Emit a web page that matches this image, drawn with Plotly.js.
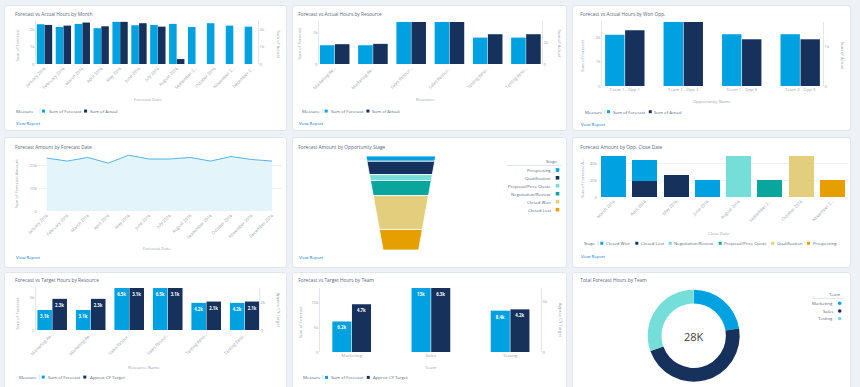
<!DOCTYPE html>
<html><head><meta charset="utf-8">
<script src="https://cdn.plot.ly/plotly-3.0.1.min.js"></script>
<style>
html,body{margin:0;padding:0;width:860px;height:387px;overflow:hidden;background:#eef1f6;}
.card{position:absolute;background:#fff;border:1px solid #e1e6ed;border-radius:3px;box-sizing:border-box;}
.plot{position:absolute;}
</style></head><body>
<script>
// ---------------- DATA ----------------
const monthsShort = ["January 2016","February 2016","March 2016","April 2016","May 2016","June 2016","July 2016","August 2016","September 2...","October 2016","November 2...","December 2..."];
const forecastByMonth = [2330, 2170, 2350, 2100, 2470, 2270, 2290, 2350, 2170, 2390, 2250, 2190];
const actualByMonth   = [2290, 2250, 2430, 2210, 2470, 2390, 2190, 290, null, null, null, null];

const resources = ["Marketing Re...","Marketing Re...","Sales Resour...","Sales Resour...","Testing Reso...","Testing Reso..."];
const forecastByResource = [590, 590, 1320, 1320, 830, 830];
const actualByResource   = [1850, 1880, 3920, 3920, 2780, 2780];

const wonOpps = ["Team 1 - Opp 1","Team 1 - Opp 2","Team 1 - Opp 3","Team 2 - Opp 3"];
const forecastByOpp = [2130, 2660, 2150, 2150];
const actualByOpp   = [1420, 1630, 1190, 1190];

const monthsFull = ["January 2016","February 2016","March 2016","April 2016","May 2016","June 2016","July 2016","August 2016","September 2016","October 2016","November 2016","December 2016"];
const forecastAmountByMonth = [23400, 22100, 23700, 21200, 24700, 23000, 23000, 23700, 22100, 24100, 22800, 22100];

const stages = ["Prospecting","Qualification","Proposal/Price Quote","Negotiation/Review","Closed Won","Closed Lost"];
const amountByStage = [20600, 49800, 20600, 49800, 95200, 46000];

const closeDates = ["March 2016","April 2016","May 2016","June 2016","August 2016","September 2...","October 2016","November 2..."];
const closedWonAmt   = [50000, 24600, null, 20600, null, null, null, null];
const closedLostAmt  = [null, 19800, 26200, null, null, null, null, null];
const negotiationAmt = [null, null, null, null, 50000, null, null, null];
const proposalAmt    = [null, null, null, null, null, 20600, null, null];
const qualificationAmt = [null, null, null, null, null, null, 50000, null];
const prospectingAmt = [null, null, null, null, null, null, null, 20600];

const resourceNames = ["Marketing Re...","Marketing Re...","Sales Resour...","Sales Resour...","Testing Reso...","Testing Reso..."];
const forecastHoursRes = [3100, 3100, 6500, 6500, 4200, 4200];
const targetHoursRes   = [2300, 2300, 3100, 3100, 2100, 2100];

const teams = ["Marketing","Sales","Testing"];
const forecastHoursTeam = [6200, 13000, 8400];
const targetHoursTeam   = [4700, 6300, 4200];

// ---------------- STYLE ----------------
const FONT = '"Open Sans", "Noto Sans", sans-serif';
const C = {blue:'#00a1e0', navy:'#16325c', lteal:'#76ded9', teal:'#08a69c', khaki:'#e2ce7d', orange:'#e69f00'};
const TXT = '#56677d', TICK = '#98a3b0', LINK = '#0070d2', AXL = '#d5dbe3';
const CFG = {staticPlot:true, displayModeBar:false};

function frame(card, plot) {
  const bg = document.createElement('div');
  bg.className = 'card';
  Object.assign(bg.style, {left:card.x+'px', top:card.y+'px', width:card.w+'px', height:card.h+'px'});
  document.body.appendChild(bg);
  const el = document.createElement('div');
  el.className = 'plot';
  Object.assign(el.style, {left:card.x+'px', top:card.y+'px', width:card.w+'px', height:card.h+'px'});
  document.body.appendChild(el);
  const P = plot || {L:card.x, R:card.x+card.w, T:card.y, B:card.y+card.h};
  const X = ax => (ax - P.L) / (P.R - P.L);
  const Y = ay => (P.B - ay) / (P.B - P.T);
  const margin = {l:P.L-card.x, r:card.x+card.w-P.R, t:P.T-card.y, b:card.y+card.h-P.B, pad:0};
  const ann = [], shp = [];
  let title = null;
  return {
    el, X, Y,
    title(tx, ty, s) {
      title = {text:s, xref:'container', yref:'container', x:(tx-card.x)/card.w, y:1-(ty-card.y)/card.h,
               xanchor:'left', yanchor:'middle', font:{family:FONT, size:4.8, color:TXT}};
    },
    text(ax, ay, s, o) {
      o = o || {};
      ann.push({xref:'paper', yref:'paper', x:X(ax), y:Y(ay), text:s, showarrow:false, borderpad:0,
        xanchor:o.xa||'left', yanchor:'middle', textangle:o.angle||0,
        font:{family:FONT, size:o.size||4.3, color:o.color||TXT}});
    },
    rect(x0, y0, x1, y1, color) {
      shp.push({type:'rect', xref:'paper', yref:'paper', x0:X(x0), x1:X(x1), y0:Y(y1), y1:Y(y0), fillcolor:color, line:{width:0}});
    },
    line(x0, y0, x1, y1, color, w) {
      shp.push({type:'line', xref:'paper', yref:'paper', x0:X(x0), x1:X(x1), y0:Y(y0), y1:Y(y1), line:{color:color, width:w||0.6}});
    },
    circle(cx, cy, r, color) {
      shp.push({type:'circle', xref:'paper', yref:'paper', x0:X(cx-r), x1:X(cx+r), y0:Y(cy+r), y1:Y(cy-r), fillcolor:color, line:{width:0}});
    },
    layout(extra) {
      return Object.assign({width:card.w, height:card.h, margin:margin, paper_bgcolor:'rgba(0,0,0,0)',
        plot_bgcolor:'rgba(0,0,0,0)', showlegend:false, annotations:ann, shapes:shp, title:title,
        font:{family:FONT, size:4.3, color:TICK}, hovermode:false}, extra);
    }
  };
}

function hLegend(api, y, head, titleX, sepX, items) {
  api.text(titleX, y, head);
  api.line(sepX, y-2.6, sepX, y+2.6, '#c3ccd7', 0.6);
  items.forEach(it => {
    api.rect(it.sx, y-1.5, it.sx+3, y+1.5, it.color);
    api.text(it.tx, y, it.text);
  });
}

function yAxis(r, d, line) {
  return {range:r, dtick:d, tick0:0, tickformat:'~s', showgrid:false, zeroline:false, showline:line,
    linecolor:AXL, linewidth:0.7, ticks:'', tickfont:{family:FONT, size:4.3, color:TICK}, fixedrange:true};
}

function groupedBars(cfg) {
  const xs = cfg.cats.map((_, i) => i);
  const lbl = cfg.labels ? {texttemplate:'<b>%{y:.2s}</b>', textposition:'inside', insidetextanchor:'end',
    textangle:0, constraintext:'none', textfont:{family:FONT, size:4.3, color:'#ffffff'}} : {textposition:'none'};
  const data = [
    Object.assign({type:'bar', x:xs, y:cfg.s1, yaxis:'y', alignmentgroup:'g', offsetgroup:'a', marker:{color:C.blue}}, lbl),
    Object.assign({type:'bar', x:xs, y:cfg.s2, yaxis:'y2', alignmentgroup:'g', offsetgroup:'b', marker:{color:C.navy}}, lbl)
  ];
  const lay = {
    barmode:'group', bargap:cfg.gap, bargroupgap:0.03,
    xaxis:{range:cfg.xr, tickmode:'array', tickvals:xs, ticktext:cfg.cats, tickangle:cfg.angle,
      showgrid:false, zeroline:false, showline:false, ticks:'', tickfont:{family:FONT, size:4.3, color:TICK}, fixedrange:true},
    yaxis:yAxis(cfg.r1, cfg.d1, true),
    yaxis2:Object.assign(yAxis(cfg.r2, cfg.d2, true), {overlaying:'y', side:'right'})
  };
  return {data, lay};
}

// ---------------- CARD 1 ----------------
(function(){
  const a = frame({x:4, y:5, w:283, h:126}, {L:36, R:257.7, T:21, B:64.3});
  const g = groupedBars({cats:monthsShort, s1:forecastByMonth, s2:actualByMonth, r1:[0,2520], r2:[0,2520], d1:1000, d2:1000, xr:[-0.45,11.3], gap:0.176, angle:-45});
  a.title(15, 14.3, 'Forecast vs Actual Hours by Month');
  a.text(16.7, 45, 'Sum of Forecast', {xa:'center', angle:-90, color:TICK});
  a.text(279.3, 44, 'Sum of Actual', {xa:'center', angle:90, color:TICK});
  a.text(148, 100, 'Forecast Date', {xa:'center', color:TICK});
  hLegend(a, 111.7, 'Measure', 15, 40, [{sx:42, tx:47.5, color:C.blue, text:'Sum of Forecast'}, {sx:84, tx:88.5, color:C.navy, text:'Sum of Actual'}]);
  a.text(15, 124, 'View Report', {color:LINK});
  Plotly.newPlot(a.el, g.data, a.layout(g.lay), CFG);
})();

// ---------------- CARD 2 ----------------
(function(){
  const a = frame({x:292, y:5, w:275, h:126}, {L:319.3, R:542.3, T:22, B:64.3});
  const g = groupedBars({cats:resources, s1:forecastByResource, s2:actualByResource, r1:[0,1320], r2:[0,3920], d1:1000, d2:2000, xr:[-0.41,5.42], gap:0.215, angle:-45});
  a.title(298.3, 14.3, 'Forecast vs Actual Hours by Resource');
  a.text(299.3, 43, 'Sum of Forecast', {xa:'center', angle:-90, color:TICK});
  a.text(560.7, 44, 'Sum of Actual', {xa:'center', angle:90, color:TICK});
  a.text(426, 100, 'Resource', {xa:'center', color:TICK});
  hLegend(a, 111.7, 'Measure', 301.7, 323.3, [{sx:325, tx:330.2, color:C.blue, text:'Sum of Forecast'}, {sx:366.7, tx:371.2, color:C.navy, text:'Sum of Actual'}]);
  a.text(298.3, 124, 'View Report', {color:LINK});
  Plotly.newPlot(a.el, g.data, a.layout(g.lay), CFG);
})();

// ---------------- CARD 3 ----------------
(function(){
  const a = frame({x:572, y:5, w:279, h:126}, {L:602, R:822.7, T:22, B:86});
  const g = groupedBars({cats:wonOpps, s1:forecastByOpp, s2:actualByOpp, r1:[0,2660], r2:[0,1630], d1:1000, d2:1000, xr:[-0.39,3.39], gap:0.316, angle:0});
  a.title(580.3, 14.3, 'Forecast vs Actual Hours by Won Opp.');
  a.text(582, 55, 'Sum of Forecast', {xa:'center', angle:-90, color:TICK});
  a.text(842.7, 55.7, 'Sum of Actual', {xa:'center', angle:90, color:TICK});
  a.text(712, 100.7, 'Opportunity Name', {xa:'center', color:TICK});
  hLegend(a, 111.7, 'Measure', 583.7, 604.7, [{sx:607, tx:612.2, color:C.blue, text:'Sum of Forecast'}, {sx:648.7, tx:653.2, color:C.navy, text:'Sum of Actual'}]);
  a.text(580.3, 124, 'View Report', {color:LINK});
  Plotly.newPlot(a.el, g.data, a.layout(g.lay), CFG);
})();

// ---------------- CARD 4 ----------------
(function(){
  const a = frame({x:4, y:137, w:283, h:131}, {L:38.3, R:281.7, T:150.25, B:211});
  const data = [{type:'scatter', mode:'lines', x:monthsFull, y:forecastAmountByMonth, fill:'tozeroy',
    fillcolor:'#e4f4fb', line:{color:'#52b5e5', width:1}}];
  a.title(15, 147.3, 'Forecast Amount by Forecast Date');
  a.text(16.7, 183.3, 'Sum of Forecast Amount', {xa:'center', angle:-90, color:TICK});
  a.text(156.7, 248.3, 'Forecast Date', {xa:'center', color:TICK});
  a.text(15, 257, 'View Report', {color:LINK});
  const lay = {
    xaxis:{type:'category', range:[-0.43,11.49], tickangle:-45, showgrid:false, zeroline:false, showline:false, ticks:'',
      tickfont:{family:FONT, size:4.3, color:TICK}, fixedrange:true},
    yaxis:Object.assign(yAxis([0,27000], 10000, false), {showgrid:true, gridcolor:'#e8ecf1', gridwidth:0.7})
  };
  Plotly.newPlot(a.el, data, a.layout(lay), CFG);
})();

// ---------------- CARD 5 ----------------
(function(){
  const a = frame({x:292, y:137, w:275, h:131});
  const stageColors = [C.blue, C.navy, C.lteal, C.teal, C.khaki, C.orange];
  const data = [{type:'funnelarea', values:amountByStage, labels:stages, textinfo:'none',
    marker:{colors:stageColors, line:{color:'#ffffff', width:0.8}}, baseratio:0.51, aspectratio:1.35,
    domain:{x:[a.X(366), a.X(435.7)], y:[a.Y(250), a.Y(156)]}}];
  a.title(298.3, 147.3, 'Forecast Amount by Opportunity Stage');
  a.text(559.3, 160.7, 'Stage', {xa:'right'});
  a.line(506.7, 165.3, 561.7, 165.3, '#c9d1db', 0.6);
  const ys = [170, 177.8, 185.7, 193.7, 201.7, 209.7];
  stages.forEach((s, i) => {
    a.text(552.3, ys[i], s, {xa:'right'});
    a.rect(555.7, ys[i]-1.8, 559.3, ys[i]+1.8, stageColors[i]);
  });
  a.text(298.3, 257, 'View Report', {color:LINK});
  Plotly.newPlot(a.el, data, a.layout({}), CFG);
})();

// ---------------- CARD 6 ----------------
(function(){
  const a = frame({x:572, y:137, w:279, h:131}, {L:598, R:848, T:153.6, B:197.3});
  const series = [
    {y:closedLostAmt, c:C.navy}, {y:closedWonAmt, c:C.blue}, {y:negotiationAmt, c:C.lteal},
    {y:proposalAmt, c:C.teal}, {y:qualificationAmt, c:C.khaki}, {y:prospectingAmt, c:C.orange}
  ];
  const data = series.map(s => ({type:'bar', x:closeDates, y:s.y, marker:{color:s.c, line:{width:0}}}));
  a.title(580.3, 147.3, 'Forecast Amount by Opp. Close Date');
  a.text(582.7, 178.3, 'Sum of Forecast A...', {xa:'center', angle:-90, color:TICK});
  a.text(718.7, 234, 'Close Date', {xa:'center', color:TICK});
  hLegend(a, 244.3, 'Stage', 582.7, 598, [
    {sx:600.3, tx:605, color:C.blue, text:'Closed Won'},
    {sx:635.3, tx:640, color:C.navy, text:'Closed Lost'},
    {sx:668.7, tx:673.4, color:C.lteal, text:'Negotiation/Review'},
    {sx:718.7, tx:723.4, color:C.teal, text:'Proposal/Price Quote'},
    {sx:771.3, tx:775.7, color:C.khaki, text:'Qualification'},
    {sx:807, tx:811.7, color:C.orange, text:'Prospecting'}
  ]);
  a.text(580.3, 257, 'View Report', {color:LINK});
  const lay = {
    barmode:'stack', bargap:0.2,
    xaxis:{type:'category', range:[-0.5,7.5], tickangle:-45, showgrid:false, zeroline:false, showline:false, ticks:'',
      tickfont:{family:FONT, size:4.3, color:TICK}, fixedrange:true},
    yaxis:Object.assign(yAxis([0,52000], 20000, false), {showgrid:true, gridcolor:'#e8ecf1', gridwidth:0.7})
  };
  Plotly.newPlot(a.el, data, a.layout(lay), CFG);
})();

// ---------------- CARD 7 ----------------
(function(){
  const a = frame({x:4, y:272, w:283, h:120}, {L:36, R:259, T:288, B:330.3});
  const g = groupedBars({cats:resourceNames, s1:forecastHoursRes, s2:targetHoursRes, r1:[0,6500], r2:[0,3100], d1:5000, d2:2000, xr:[-0.42,5.37], gap:0.22, angle:-45, labels:true});
  a.title(15, 280.7, 'Forecast vs Target Hours by Resource');
  a.text(16.7, 313.3, 'Sum of Forecast', {xa:'center', angle:-90, color:TICK});
  a.text(279.3, 310, 'Approx CY Target', {xa:'center', angle:90, color:TICK});
  a.text(144, 367.3, 'Resource Name', {xa:'center', color:TICK});
  hLegend(a, 377.7, 'Measure', 18.3, 39.3, [{sx:41.7, tx:47.2, color:C.blue, text:'Sum of Forecast'}, {sx:83.3, tx:88.8, color:C.navy, text:'Approx CY Target'}]);
  Plotly.newPlot(a.el, g.data, a.layout(g.lay), CFG);
})();

// ---------------- CARD 8 ----------------
(function(){
  const a = frame({x:292, y:272, w:275, h:120}, {L:320, R:540.7, T:288.3, B:352.3});
  const g = groupedBars({cats:teams, s1:forecastHoursTeam, s2:targetHoursTeam, r1:[0,13000], r2:[0,6300], d1:5000, d2:5000, xr:[-0.4,2.39], gap:0.504, angle:0, labels:true});
  a.title(298.3, 280.7, 'Forecast vs Target Hours by Team');
  a.text(300, 321.7, 'Sum of Forecast', {xa:'center', angle:-90, color:TICK});
  a.text(560.7, 320, 'Approx CY Target', {xa:'center', angle:90, color:TICK});
  a.text(430.7, 367.3, 'Team', {xa:'center', color:TICK});
  hLegend(a, 377.7, 'Measure', 301.7, 322.7, [{sx:325, tx:330.2, color:C.blue, text:'Sum of Forecast'}, {sx:366.7, tx:372.2, color:C.navy, text:'Approx CY Target'}]);
  Plotly.newPlot(a.el, g.data, a.layout(g.lay), CFG);
})();

// ---------------- CARD 9 ----------------
(function(){
  const a = frame({x:572, y:272, w:279, h:120});
  const teamColors = [C.blue, C.navy, C.lteal];
  const total = forecastHoursTeam.reduce((s, v) => s + v, 0);
  const data = [{type:'pie', values:forecastHoursTeam, labels:teams, hole:0.7, sort:false, direction:'clockwise',
    textinfo:'none', marker:{colors:teamColors, line:{width:0}},
    domain:{x:[a.X(647.7), a.X(739.7)], y:[a.Y(381.7), a.Y(289.7)]}}];
  a.title(580.3, 280.7, 'Total Forecast Hours by Team');
  a.text(693.7, 336.5, Math.round(total/1000) + 'K', {xa:'center', size:11, color:'#3e3e3c'});
  a.text(841.3, 294, 'Team', {xa:'right'});
  a.line(812, 298.3, 843.7, 298.3, '#c9d1db', 0.6);
  const ys = [303.3, 311, 318.5];
  teams.forEach((t, i) => {
    a.text(834.3, ys[i], t, {xa:'right'});
    a.circle(839.7, ys[i], 1.8, teamColors[i]);
  });
  Plotly.newPlot(a.el, data, a.layout({}), CFG);
})();
</script>
</body></html>
